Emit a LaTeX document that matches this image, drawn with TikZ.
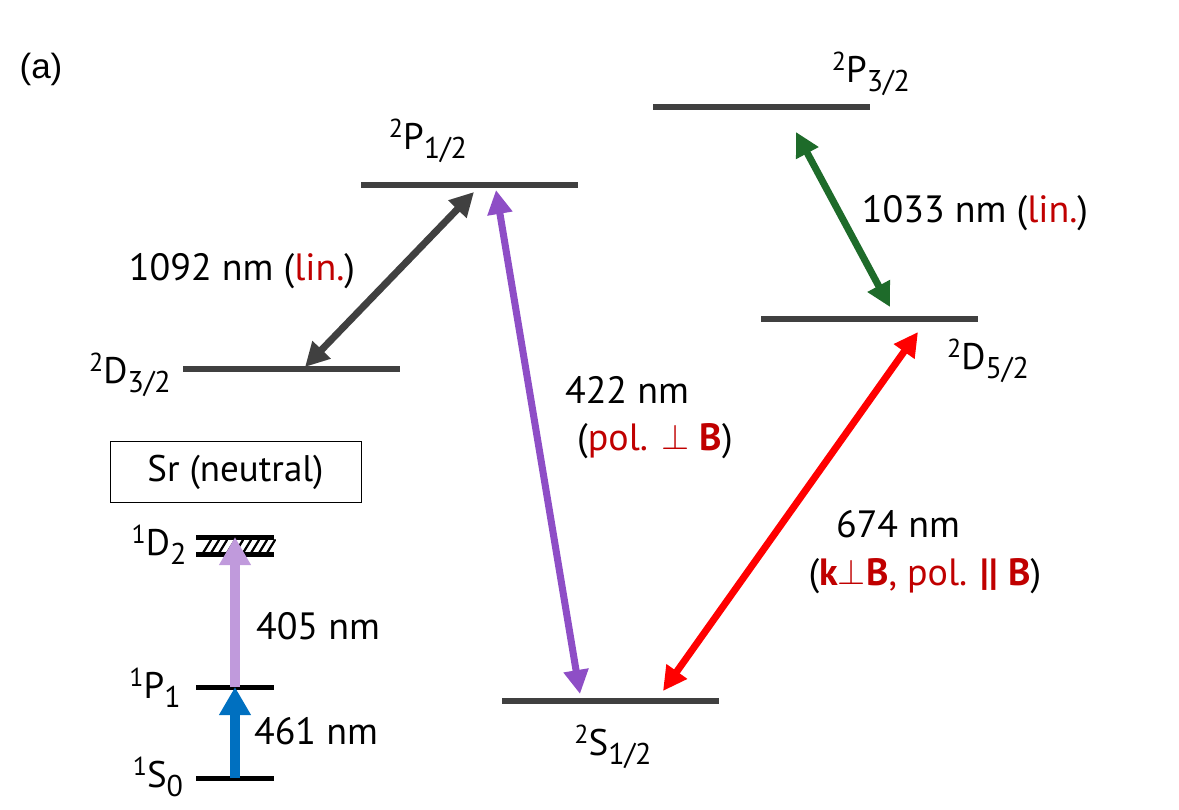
\documentclass[tikz,border=0pt]{standalone}
\usepackage{fontspec}
\setmainfont{PT Sans}
\newfontfamily\arialfont{Liberation Sans}
\usetikzlibrary{arrows.meta}
\definecolor{lvlgray}{HTML}{404040}
\definecolor{purp}{HTML}{8E4EC6}
\definecolor{grn}{HTML}{1E6B2A}
\definecolor{bluearr}{HTML}{0070C0}
\definecolor{lav}{HTML}{C09ADC}
\definecolor{redtxt}{HTML}{C00000}
\newcommand{\lv}[3]{\raisebox{12pt}{\fontsize{26}{26}\selectfont #1}#2\raisebox{-9pt}{\fontsize{30}{30}\selectfont #3}}
\newcommand{\bigperp}{\raisebox{1pt}{\scalebox{1.45}{$\perp$}}}
\begin{document}
\begin{tikzpicture}[x=1pt,y=-1pt,
  every node/.style={font=\fontsize{37}{42}\selectfont, inner sep=0pt},
  level/.style={draw=none, fill=lvlgray, minimum height=6pt, minimum width=217pt, inner sep=0pt},
  slevel/.style={draw=none, fill=black, minimum height=5pt, minimum width=78pt, inner sep=0pt},
  lvlabel/.style={anchor=base, font=\fontsize{37}{42}\selectfont},
  dbl/.style={line width=7pt, {Triangle[length=24pt,width=24pt]}-{Triangle[length=24pt,width=24pt]}},
  up/.style={line width=10pt, -{Triangle[length=28pt,width=30pt]}},
  lbl/.style={font=\fontsize{38}{42}\selectfont}]
\useasboundingbox (0,0) rectangle (1179,810);
\node[font=\arialfont\fontsize{35}{40}\selectfont] (tag) at (41,69) {(a)};
% ion levels
\node[level] (P32) at (761,107) {};
\node[level] (P12) at (469,185) {};
\node[level] (D32) at (291,369) {};
\node[level] (D52) at (869,319) {};
\node[level] (S12) at (610,701) {};
\node[lvlabel] (lP32) at (871,83) {\lv{2}{P}{3/2}};
\node[lvlabel] (lP12) at (428,150) {\lv{2}{P}{1/2}};
\node[lvlabel] (lD32) at (130,384) {\lv{2}{D}{3/2}};
\node[lvlabel] (lD52) at (988,370) {\lv{2}{D}{5/2}};
\node[lvlabel] (lS12) at (613,755) {\lv{2}{S}{1/2}};
% arrow endpoints
\coordinate (a1) at (305,367);
\coordinate (a2) at (474,192);
\coordinate (b1) at (496,190);
\coordinate (b2) at (580,694);
\coordinate (c1) at (796,132);
\coordinate (c2) at (890,307);
\coordinate (d1) at (918,332);
\coordinate (d2) at (663,691);
\draw[dbl, lvlgray] (a1) -- (a2);
\draw[dbl, purp] (b1) -- (b2);
\draw[dbl, grn] (c1) -- (c2);
\draw[dbl, red] (d1) -- (d2);
\node[lbl] (t1092) at (242,271) {1092 nm (\textcolor{redtxt}{lin.})};
\node[lbl] (t422) at (627,390) {422 nm};
\node[lbl] (t422b) at (655,441) {(\textcolor{redtxt}{pol. \bigperp\ \textbf{B}})};
\node[lbl] (t1033) at (975,213) {1033 nm (\textcolor{redtxt}{lin.})};
\node[lbl] (t674) at (898,524) {674 nm};
\node[lbl] (t674b) at (925,576) {(\textcolor{redtxt}{\textbf{k}\bigperp\textbf{B}, pol. \textbf{||} \textbf{B}})};
% neutral Sr
\node[draw=black, line width=1pt, minimum width=251pt, minimum height=60pt] (box) at (235.5,472) {Sr (neutral)};
\node[slevel] (D2) at (235,537) {};
\node[slevel] (D2b) at (235,554) {};
\foreach \i in {0,...,8}{
  \draw[line width=2.2pt, line cap=round] (203+8*\i,553) -- (211+8*\i,540);
}
\node[slevel] (P1) at (235,687) {};
\node[slevel] (S0) at (235,778) {};
\node[lvlabel] (lD2) at (159,555) {\lv{1}{D}{2}};
\node[lvlabel] (lP1) at (155,698) {\lv{1}{P}{1}};
\node[lvlabel] (lS0) at (158,787) {\lv{1}{S}{0}};
\draw[up, lav] (P1.center) -- (D2.center);
\draw[up, bluearr] (S0.center) -- (P1.center);
\node[lbl] (t405) at (318,626) {405 nm};
\node[lbl] (t461) at (316,731) {461 nm};
\end{tikzpicture}
\end{document}
